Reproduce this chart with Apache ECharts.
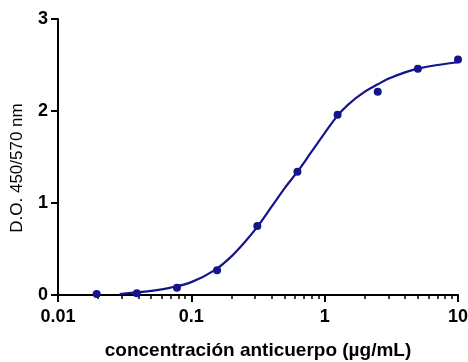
<!DOCTYPE html>
<html>
<head>
<meta charset="utf-8">
<script src="https://cdn.jsdelivr.net/npm/echarts@6/dist/echarts.min.js"></script>
<style>
  html, body { margin: 0; padding: 0; background: #fff; }
  #chart { width: 468px; height: 362px; }
</style>
</head>
<body>
<div id="chart"></div>
<script>
// measured points (concentration, O.D.)
const concentrations = [0.0195, 0.039, 0.078, 0.156, 0.3125, 0.625, 1.25, 2.5, 5, 10];
const odValues = [0.01, 0.02, 0.08, 0.27, 0.75, 1.34, 1.96, 2.21, 2.46, 2.56];

// fitted curve
const curveX = [0.029, 0.04, 0.05, 0.07, 0.1, 0.15, 0.2, 0.25, 0.3125, 0.4, 0.5, 0.625, 0.8, 1, 1.25, 1.5, 2, 2.5, 3, 4, 5, 7, 10];
const curveY = [0.01, 0.03, 0.045, 0.08, 0.14, 0.27, 0.42, 0.57, 0.74, 0.96, 1.16, 1.34, 1.56, 1.76, 1.95, 2.07, 2.21, 2.29, 2.35, 2.42, 2.46, 2.5, 2.53];

// log axis minor ticks (2..9 in each decade)
const decades = [0.01, 0.1, 1];
const minorSteps = [2, 3, 4, 5, 6, 7, 8, 9];
const minorTicks = [];
decades.forEach(d => minorSteps.forEach(m => minorTicks.push(+(d * m).toPrecision(3))));

const navy = '#14148c';
const font = 'Liberation Sans, Arial, sans-serif';

const chart = echarts.init(document.getElementById('chart'));

chart.setOption({
  animation: false,
  grid: { left: 58, right: 10, top: 19, bottom: 67, outerBoundsMode: 'none', containLabel: false },
  xAxis: [
    {
      type: 'log',
      logBase: 10,
      min: 0.01,
      max: 10,
      position: 'bottom',
      name: 'concentración anticuerpo (µg/mL)',
      nameLocation: 'middle',
      nameGap: 46,
      nameTextStyle: { color: '#000', fontSize: 19, fontWeight: 'bold', fontFamily: font },
      axisLine: { lineStyle: { color: '#000', width: 2 } },
      axisTick: { show: true, length: 7, lineStyle: { color: '#000', width: 2 } },
      axisLabel: {
        color: '#000', fontSize: 18, fontWeight: 'bold', fontFamily: font, margin: 13,
        formatter: v => String(v)
      },
      splitLine: { show: false }
    },
    {
      // second copy of the axis, only for the log minor ticks
      type: 'log',
      logBase: 10,
      min: 0.01,
      max: 10,
      position: 'bottom',
      offset: 0,
      axisLine: { show: false },
      axisLabel: { show: false },
      axisTick: { show: true, customValues: minorTicks, length: 4, lineStyle: { color: '#000', width: 1.5 } },
      splitLine: { show: false }
    }
  ],
  yAxis: {
    type: 'value',
    min: 0,
    max: 3,
    interval: 1,
    name: 'D.O. 450/570 nm',
    nameLocation: 'middle',
    nameGap: 32,
    nameTextStyle: { color: '#000', fontSize: 17, fontFamily: font, padding: [0, 22, 0, 0] },
    axisLine: { show: true, lineStyle: { color: '#000', width: 2 } },
    axisTick: { show: true, length: 7, lineStyle: { color: '#000', width: 2 } },
    axisLabel: { color: '#000', fontSize: 18, fontWeight: 'bold', fontFamily: font, margin: 10 },
    splitLine: { show: false }
  },
  series: [
    {
      type: 'line',
      data: curveX.map((x, i) => [x, curveY[i]]),
      smooth: 0.35,
      showSymbol: false,
      lineStyle: { color: navy, width: 2.2 },
      z: 3
    },
    {
      type: 'scatter',
      data: concentrations.map((x, i) => [x, odValues[i]]),
      symbol: 'circle',
      symbolSize: 8,
      itemStyle: { color: navy, opacity: 1 },
      clip: false,
      z: 4
    }
  ]
});
</script>
</body>
</html>
